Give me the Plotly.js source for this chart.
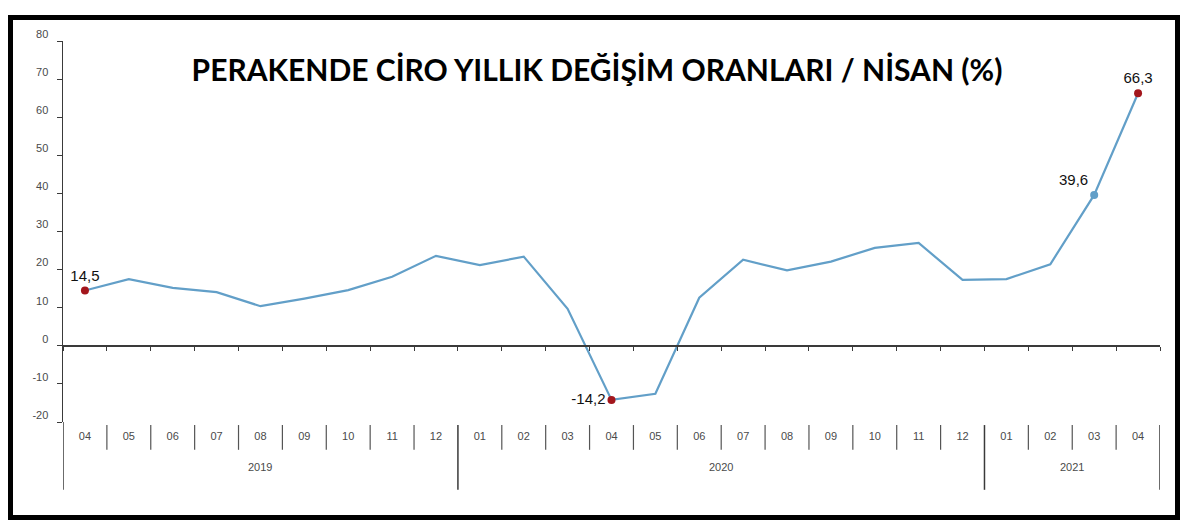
<!DOCTYPE html>
<html>
<head>
<meta charset="utf-8">
<script src="https://cdn.plot.ly/plotly-3.0.1.min.js"></script>
<style>
body { margin: 0; background: #fff; }
#plot { width: 1200px; height: 532px; }
#frame { position: absolute; left: 8px; top: 15px; width: 1162px; height: 495px; border: 5px solid #000; pointer-events: none; }
</style>
</head>
<body>
<div id="plot"></div>
<div id="frame"></div>
<script>
// DATA =========================================================
var months = ['04', '05', '06', '07', '08', '09', '10', '11', '12',
              '01', '02', '03', '04', '05', '06', '07', '08', '09', '10', '11', '12',
              '01', '02', '03', '04'];
var years = ['2019', '2020', '2021'];
var yearStart = [0, 9, 21];   // first month index of each year
var values = [14.5, 17.5, 15.2, 14.1, 10.4, 12.4, 14.6, 18.1, 23.6,
              21.2, 23.4, 9.7, -14.2, -12.6, 12.6, 22.6, 19.8, 22.1, 25.7, 27.0, 17.3,
              17.5, 21.4, 39.6, 66.3];
var marked = [0, 12, 23, 24]; // points with a value label
var yTicks = [-20, -10, 0, 10, 20, 30, 40, 50, 60, 70, 80];

// STYLE ========================================================
var lineColor = '#629fc8';
var red = '#a3161c';
var axisColor = '#3a3a3a';
var markColors = [red, red, lineColor, red];
var labelPos = ['top center', 'middle left', 'top left', 'top center'];
var smallFont = { family: 'Arial, Liberation Sans', size: 11, color: '#4a4a4a' };

var n = months.length;
var idx = months.map(function (m, i) { return i; });
var range = [-0.5, n - 0.5];

// boundaries between categories
var bounds = [];
for (var i = 0; i <= n; i++) bounds.push(i - 0.5);

var yearBounds = yearStart.slice(1).map(function (s) { return s - 0.5; });
yearBounds.push(n - 0.5);

var shapes = [];
// y axis line carried down through the label rows
shapes.push({ type: 'line', xref: 'x', yref: 'paper', x0: -0.5, x1: -0.5, y0: 0, y1: -0.178,
              line: { color: axisColor, width: 1.5 } });
bounds.forEach(function (b) {
    if (b < 0) return;
    var isYear = yearBounds.indexOf(b) >= 0;
    shapes.push({
        type: 'line', xref: 'x', yref: 'paper', x0: b, x1: b,
        y0: -0.008, y1: isYear ? -0.178 : -0.073,
        line: { color: isYear ? axisColor : '#555', width: isYear ? 1.5 : 1.2 }
    });
});

var annotations = years.map(function (y, i) {
    var first = yearStart[i];
    var last = i + 1 < years.length ? yearStart[i + 1] - 1 : n - 1;
    return {
        text: y, xref: 'x', yref: 'paper', x: (first + last) / 2, y: -0.14,
        showarrow: false, font: smallFont
    };
});

var data = [
    {
        x: idx, y: values, type: 'scatter', mode: 'lines',
        line: { color: lineColor, width: 2.2 }, hoverinfo: 'skip'
    },
    {
        x: marked.map(function (i) { return i; }),
        y: marked.map(function (i) { return values[i]; }),
        type: 'scatter', mode: 'markers+text',
        marker: { color: markColors, size: 8, symbol: 'circle' },
        text: marked.map(function (i) { return values[i].toFixed(1).replace('.', ','); }),
        textposition: labelPos,
        textfont: { family: 'Arial, Liberation Sans', size: 15, color: '#111' }
    },
    { // carries the zero-line axis
        x: [0], y: [0], xaxis: 'x2', type: 'scatter', mode: 'markers',
        marker: { opacity: 0 }, hoverinfo: 'skip'
    }
];

var layout = {
    width: 1200,
    height: 532,
    showlegend: false,
    paper_bgcolor: '#fff',
    plot_bgcolor: '#fff',
    margin: { l: 63, r: 40, t: 41, b: 110 },
    title: {
        text: 'PERAKENDE CİRO YILLIK DEĞİŞİM ORANLARI / NİSAN (%)',
        x: 0.4975, xanchor: 'center', y: 0.868, yanchor: 'middle',
        font: { family: 'Lato', size: 30, color: '#000', weight: 'bold' }
    },
    xaxis: {
        range: range,
        tickvals: idx,
        ticktext: months,
        ticks: '',
        showline: false,
        showgrid: false,
        zeroline: false,
        ticklabelstandoff: 6,
        tickfont: smallFont
    },
    xaxis2: {
        overlaying: 'x',
        anchor: 'free',
        position: 0.2,
        range: range,
        tickvals: bounds,
        ticks: 'outside',
        ticklen: 4,
        tickcolor: axisColor,
        showticklabels: false,
        showline: true,
        linecolor: axisColor,
        linewidth: 2,
        showgrid: false,
        zeroline: false
    },
    yaxis: {
        range: [-20, 80],
        tickvals: yTicks,
        ticktext: yTicks.map(String),
        ticks: 'outside',
        ticklen: 5,
        tickcolor: axisColor,
        showline: true,
        linecolor: axisColor,
        linewidth: 1.5,
        showgrid: false,
        zeroline: false,
        ticklabelstandoff: 6,
        ticklabelshift: -7,
        tickfont: smallFont
    },
    shapes: shapes,
    annotations: annotations
};

Plotly.newPlot('plot', data, layout, { displayModeBar: false, staticPlot: true });
</script>
</body>
</html>
